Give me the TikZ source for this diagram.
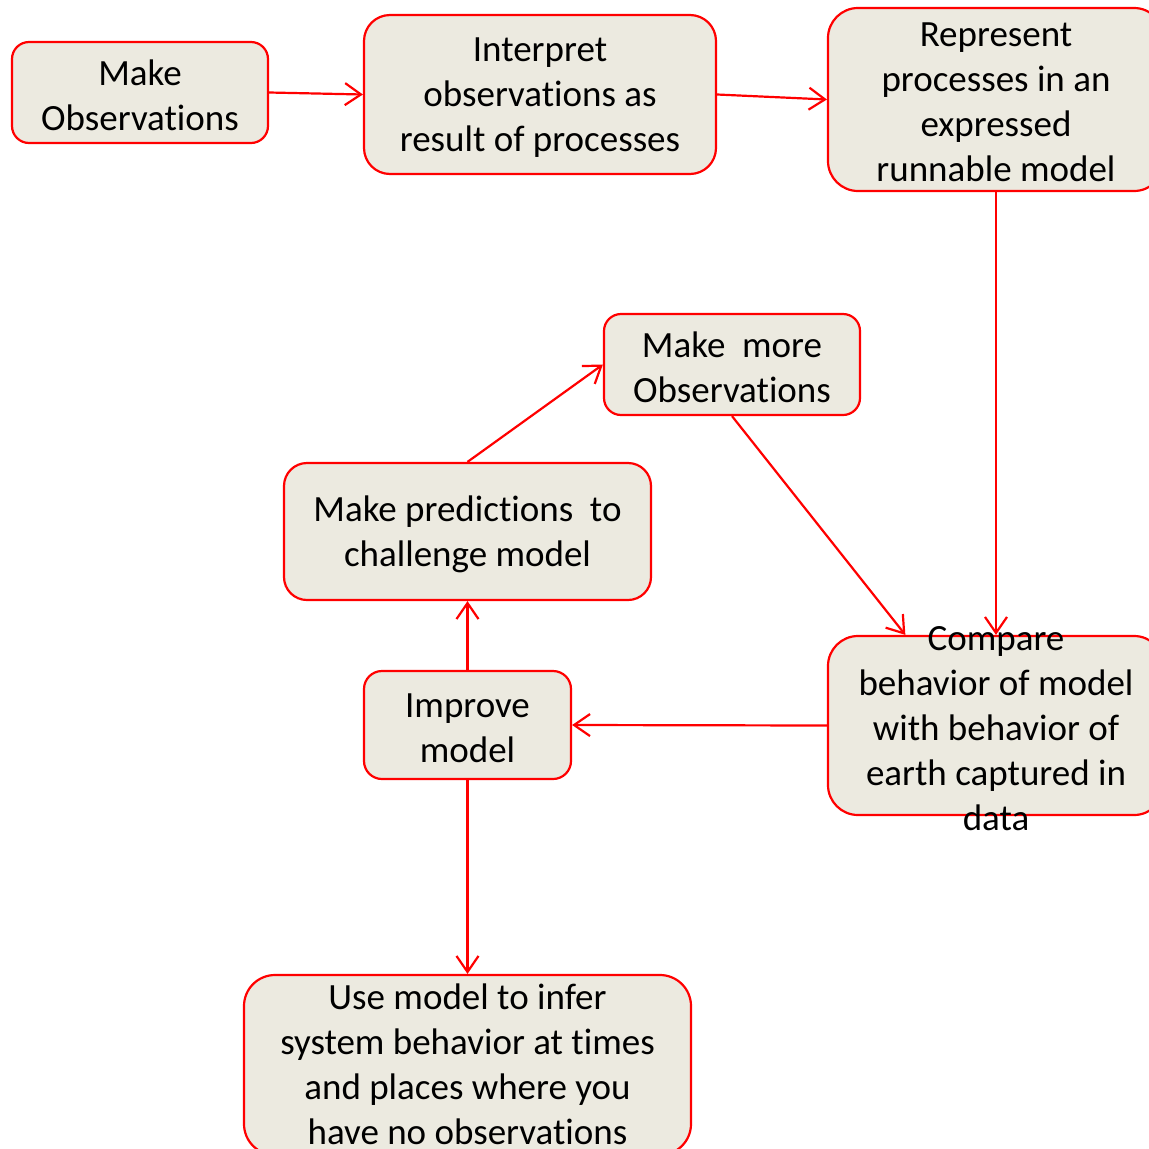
\documentclass[tikz,border=0pt]{standalone}
\usepackage{fontspec}
\setmainfont{Carlito}[Ligatures={NoCommon}, RawFeature={-liga;-clig;-dlig}]
\usetikzlibrary{arrows.meta,calc}
\definecolor{boxfill}{HTML}{ECEAE0}
\definecolor{edge}{HTML}{FF0000}
\begin{document}
\begin{tikzpicture}[x=1pt,y=-1pt,
  label text/.style={inner sep=0pt, align=center, font=\fontsize{37}{45}\selectfont},
  stepbox/.style={draw=edge, fill=boxfill, line width=2.2pt, inner sep=0pt},
  boxtext/.style={label={[label text, yshift=-3pt]center:{#1}}},
  flow/.style={draw=edge, line width=2.2pt,
    -{Straight Barb[length=16pt,width=22pt,line width=2.2pt]}}]
\path[use as bounding box, clip] (0,0) rectangle (1149,1149);
\fill[white] (0,0) rectangle (1149,1149);

% process steps
\node[stepbox, minimum width=256pt, minimum height=101pt, rounded corners=17pt,
  boxtext={Make\\Observations}] (obs) at (140,92.5) {};
\node[stepbox, minimum width=352pt, minimum height=159pt, rounded corners=26pt,
  boxtext={Interpret\\observations as\\result of processes}] (interp) at (540,94.5) {};
\node[stepbox, minimum width=336pt, minimum height=183pt, rounded corners=30pt,
  boxtext={Represent\\processes in an\\expressed\\runnable model}] (repr) at (996,99.5) {};
\node[stepbox, minimum width=256pt, minimum height=101pt, rounded corners=17pt,
  boxtext={Make\ \ more\\Observations}] (more) at (732,364.5) {};
\node[stepbox, minimum width=367pt, minimum height=137pt, rounded corners=23pt,
  boxtext={Make predictions\ \ to\\challenge model}] (pred) at (467.5,531.5) {};
\node[stepbox, minimum width=207pt, minimum height=108pt, rounded corners=18pt,
  boxtext={Improve\\model}] (impr) at (467.5,725) {};
\node[stepbox, minimum width=336pt, minimum height=179pt, rounded corners=30pt,
  boxtext={Compare\\behavior of model\\with behavior of\\earth captured in\\data}]
  (cmp) at (996,725.5) {};
\node[stepbox, minimum width=447pt, minimum height=180pt, rounded corners=31pt,
  label={[label text, yshift=1pt]center:{Use model to infer\\system behavior at times\\and places where you\\have no observations}}]
  (use) at (467.5,1065) {};

% connectors
\draw[flow] (obs.east) -- (interp.west);
\draw[flow] (interp.east) -- (repr.west);
\draw[flow] (repr.south) -- (cmp.north);
\draw[flow] (more.south) -- ($(cmp.north west)!0.232!(cmp.north east)$);
\draw[flow] (cmp.west) -- (impr.east);
\draw[flow] (impr.north) -- (pred.south);
\draw[flow] (pred.north) -- (more.west);
\draw[flow] (impr.south) -- (use.north);
\end{tikzpicture}
\end{document}
